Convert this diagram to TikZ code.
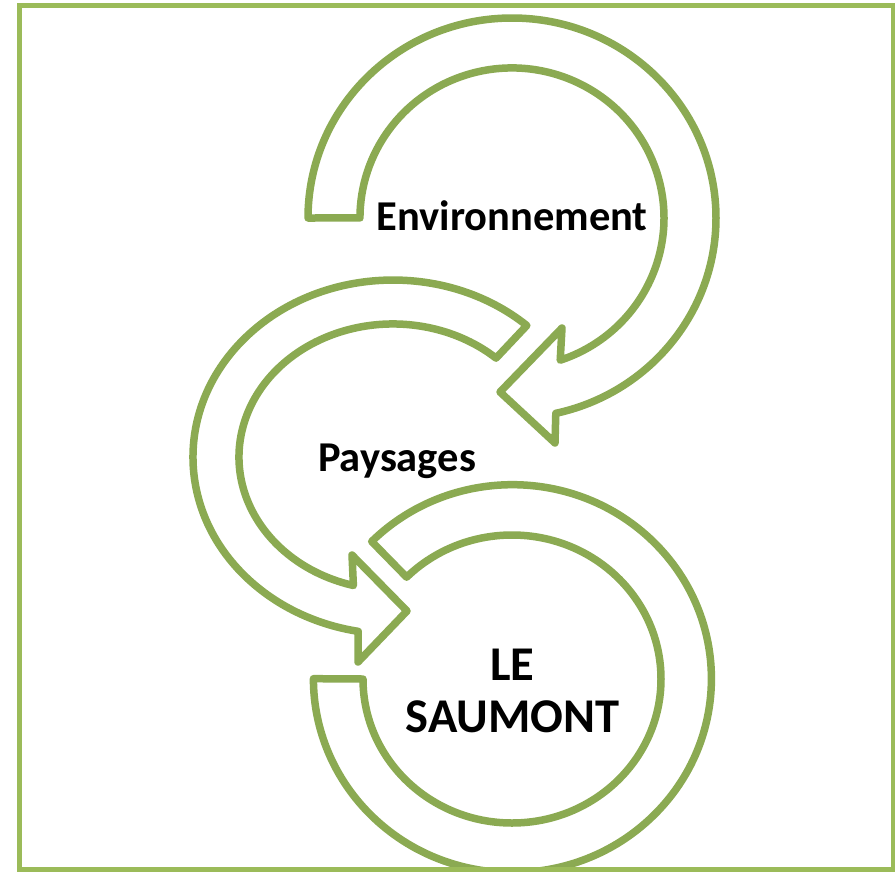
\documentclass[tikz,border=0pt]{standalone}
\usepackage{fontspec}
\setmainfont{Carlito}
\usepackage{tikz}
\usetikzlibrary{calc}
\definecolor{cadre}{HTML}{9BBB59}
\definecolor{fleche}{HTML}{8BAA52}

\begin{document}
\begin{tikzpicture}[x=1pt,y=-1pt,
        ring/.style={draw=fleche,line width=7.5pt,fill=white,line join=round},
        titre/.style={font=\bfseries\fontsize{42.5}{50}\selectfont,align=center}]
    \useasboundingbox (0,0) rectangle (895,871);
    \draw[ring] (308,218) arc[start angle=180,end angle=437.6,x radius=204,y radius=200]
        -- (555,443) -- (500,392) -- (562,328) -- (560.2,360.2)
        arc[start angle=431.5,end angle=180,x radius=152,y radius=150] -- cycle;
    \draw[ring] (526.8,325.5) arc[start angle=-48,end angle=-260,x radius=200,y radius=177]
        -- (358,662) -- (407,611) -- (352,555) -- (353.4,585.5)
        arc[start angle=-255.1,end angle=-48,x radius=154,y radius=133] -- cycle;
    \draw[ring] (371.7,541.5) arc[start angle=225,end angle=540,x radius=199,y radius=194]
        -- (363,679)
        arc[start angle=540,end angle=225,x radius=149,y radius=144] -- cycle;
    \node[titre,anchor=base] (env) at (512,230) {Environnement};
    \node[titre,anchor=base] (pay) at (397,471) {Paysages};
    \node[titre,font=\bfseries\fontsize{48.5}{52}\selectfont] (saumont) at (512.5,690.5) {LE\\SAUMONT};
    \draw[cadre,line width=5pt] (19.5,5.5) rectangle (893,869.5);
\end{tikzpicture}
\end{document}
